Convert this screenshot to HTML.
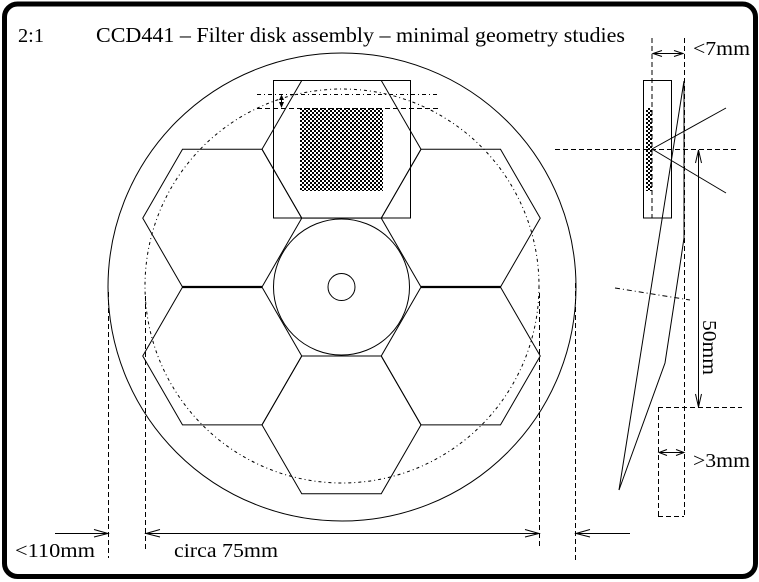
<!DOCTYPE html>
<html><head><meta charset="utf-8">
<style>
html,body{margin:0;padding:0;background:#fff;}
svg{display:block;}
text{font-family:"Liberation Serif",serif;fill:#000;}
</style></head>
<body>
<svg width="759" height="582" viewBox="0 0 759 582" xmlns="http://www.w3.org/2000/svg">
<defs>
<pattern id="chk" x="0" y="0" width="4" height="4" patternUnits="userSpaceOnUse">
<rect width="4" height="4" fill="#fff"/>
<rect x="0" y="0" width="2" height="2" fill="#000"/>
<rect x="2" y="2" width="2" height="2" fill="#000"/>
<rect x="1" y="1" width="1" height="1" fill="#000"/>
</pattern>
</defs>
<rect x="0" y="0" width="759" height="582" fill="#fff"/>
<!-- frame -->
<rect x="4.5" y="4" width="751" height="572.5" rx="13" ry="13" fill="none" stroke="#000" stroke-width="5"/>

<!-- texts -->
<text x="18" y="42" font-size="20" textLength="26" lengthAdjust="spacingAndGlyphs">2:1</text>
<text x="96" y="42" font-size="21" textLength="529" lengthAdjust="spacingAndGlyphs">CCD441 – Filter disk assembly – minimal geometry studies</text>
<text x="693" y="55" font-size="20" textLength="57" lengthAdjust="spacingAndGlyphs">&lt;7mm</text>
<text x="693" y="467" font-size="20" textLength="57" lengthAdjust="spacingAndGlyphs">&gt;3mm</text>
<text x="15" y="557" font-size="20" textLength="80" lengthAdjust="spacingAndGlyphs">&lt;110mm</text>
<text x="174" y="557" font-size="20" textLength="104" lengthAdjust="spacingAndGlyphs">circa 75mm</text>
<text transform="translate(703,320) rotate(90)" font-size="20" textLength="55" lengthAdjust="spacingAndGlyphs">50mm</text>

<g fill="none" stroke="#000" stroke-width="1">
<!-- big circle -->
<circle cx="342" cy="287" r="234"/>
<!-- dotted circle -->
<circle cx="342" cy="286" r="197" stroke-dasharray="3 3 1 3"/>

<!-- hexagons -->
<polygon points="142.75,218.15 182.5,149.3 262,149.3 301.75,218.15 262,287 182.5,287"/>
<polygon points="142.75,356 182.5,287.15 262,287.15 301.75,356 262,424.85 182.5,424.85"/>
<polygon points="262,149.3 301.75,80.45 381.25,80.45 421,149.3 381.25,218.15 301.75,218.15"/>
<polygon points="262,424.85 301.75,356 381.25,356 421,424.85 381.25,493.7 301.75,493.7"/>
<polygon points="381.25,218.15 421,149.3 500.5,149.3 540.25,218.15 500.5,287 421,287"/>
<polygon points="381.25,356 421,287.15 500.5,287.15 540.25,356 500.5,424.85 421,424.85"/>
<line x1="182.5" y1="287" x2="262" y2="287" stroke-width="2.2"/>
<line x1="421" y1="287" x2="500.5" y2="287" stroke-width="2.2"/>

<!-- central circles -->
<circle cx="341.5" cy="287" r="68"/>
<circle cx="341.5" cy="287" r="13.5"/>

<!-- CCD square -->
<rect x="273.5" y="80.5" width="137" height="137.5"/>
</g>
<rect x="300" y="108" width="83" height="83" fill="url(#chk)"/>

<g fill="none" stroke="#000" stroke-width="1">
<line x1="257" y1="94.5" x2="438" y2="94.5" stroke-dasharray="4 3 1 3"/>
<line x1="257" y1="108.5" x2="438" y2="108.5" stroke-dasharray="5 3"/>
<line x1="281.5" y1="96" x2="281.5" y2="107"/>
</g>
<polygon points="279,100 281.5,94.5 284,100" fill="#000"/>
<polygon points="279,102 281.5,108 284,102" fill="#000"/>

<!-- vertical dashed dimension lines -->
<g fill="none" stroke="#000" stroke-width="1" stroke-dasharray="5 3">
<line x1="108.5" y1="292" x2="108.5" y2="558"/>
<line x1="145.5" y1="296" x2="145.5" y2="550"/>
<line x1="539.5" y1="293" x2="539.5" y2="546"/>
<line x1="575.5" y1="283" x2="575.5" y2="561"/>
</g>
<!-- bottom dimension arrows -->
<g fill="none" stroke="#000" stroke-width="1">
<line x1="55" y1="533.5" x2="108" y2="533.5"/>
<polyline points="94,529.5 108,533.5 94,537"/>
<line x1="145" y1="533.5" x2="539" y2="533.5"/>
<polyline points="160,529.5 146,533.5 160,537"/>
<polyline points="525,529.5 539,533.5 525,537"/>
<line x1="576" y1="533.5" x2="630" y2="533.5"/>
<polyline points="590,529.5 576,533.5 590,537"/>
</g>

<!-- right side diagram -->
<g fill="none" stroke="#000" stroke-width="1">
<rect x="643.5" y="80.5" width="28" height="137.5"/>
</g>
<rect x="646" y="108" width="6" height="83" fill="url(#chk)"/>
<g fill="none" stroke="#000" stroke-width="1">
<line x1="652" y1="38" x2="652" y2="218" stroke-dasharray="5 3"/>
<line x1="684.5" y1="38" x2="684.5" y2="517" stroke-dasharray="5 3"/>
<line x1="555" y1="149.5" x2="736" y2="149.5" stroke-dasharray="5 3"/>
<line x1="652" y1="149" x2="726" y2="108"/>
<line x1="652" y1="149" x2="726" y2="193"/>
<!-- wedge -->
<line x1="684" y1="81" x2="619" y2="490"/>
<polyline points="684,82 684,238 680,265 665,363 619,490"/>
<!-- slanted dash-dot -->
<line x1="615" y1="288" x2="690" y2="300" stroke-dasharray="5 3 1 3"/>
<!-- <7mm arrow -->
<line x1="653" y1="53.5" x2="683" y2="53.5"/>
<polyline points="662,50.5 653,53.5 662,56.5"/>
<polyline points="674,50.5 683,53.5 674,56.5"/>
<!-- 50mm arrow -->
<line x1="698.5" y1="150" x2="698.5" y2="407"/>
<polyline points="695.5,163 698.5,150 701.5,163"/>
<polyline points="695.5,394 698.5,407 701.5,394"/>
<!-- >3mm box -->
<line x1="658" y1="407.5" x2="742" y2="407.5" stroke-dasharray="5 3"/>
<line x1="658.5" y1="407" x2="658.5" y2="517" stroke-dasharray="5 3"/>
<line x1="658" y1="516.5" x2="684" y2="516.5" stroke-dasharray="5 3"/>
<line x1="659" y1="452.5" x2="684" y2="452.5"/>
<polyline points="667,449.5 659,452.5 667,455.5"/>
<polyline points="676,449.5 684,452.5 676,455.5"/>
</g>
</svg>
</body></html>
